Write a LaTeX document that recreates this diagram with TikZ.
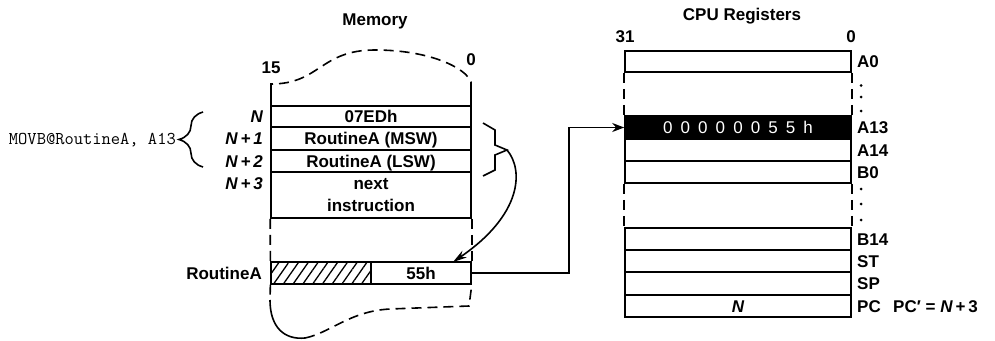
\documentclass[tikz,border=0pt]{standalone}
\usepackage{fontspec}
\setmainfont{Liberation Sans}
\newfontfamily\lblfont{Liberation Sans}
\newfontfamily\digfont{Liberation Sans}
\usetikzlibrary{arrows.meta,decorations.pathreplacing,patterns.meta}
\newcommand\lbl{\lblfont\fontsize{17}{22}\selectfont\bfseries}
\newcommand\gp{\hspace{8.1pt}}
\begin{document}
\begin{tikzpicture}[x=1pt,y=-1pt,
  lw/.style={line width=1.6pt},
  dsh/.style={line width=1.6pt,dash pattern=on 10pt off 6pt},
  lab/.style={inner sep=0pt,text height=12.2pt,text depth=0pt,font=\lbl},
  cell/.style={draw,line width=1.6pt,inner sep=0pt,minimum width=200pt,text height=12.2pt,text depth=0pt,font=\lbl},
  reg/.style={draw,line width=1.6pt,inner sep=0pt,minimum width=226pt,text height=12.2pt,text depth=0pt,font=\lbl},
  arr/.style={-{Stealth[length=14pt,width=8pt]}},
]
\useasboundingbox (0,0) rectangle (995,340);

% ---------------- Memory ----------------
\node[lab,anchor=base] (tmem) at (375,25) {Memory};
\node[lab,anchor=base] (b15) at (271,73) {15};
\node[lab,anchor=base] (b0m) at (471,65) {0};

\draw[dsh] (271,92) -- (271,84) .. controls (320,84) and (320,50) .. (375,50)
  .. controls (430,50) and (466,68) .. (471,82) -- (471,92);
\draw[lw] (271,91) -- (271,106);
\draw[lw] (471,91) -- (471,106);

\node[cell,minimum height=21pt] (mN) at (371,116.5) {07EDh};
\node[cell,minimum height=23pt] (mN1) at (371,138.5) {RoutineA (MSW)};
\node[cell,minimum height=22pt] (mN2) at (371,161) {RoutineA (LSW)};
\node[cell,minimum height=46pt] (mN3) at (371,195) {};
\node[lab] (tnext) at (371,183.5) {next};
\node[lab] (tinstr) at (371,205.5) {instruction};

\node[cell,minimum width=100pt,minimum height=22pt,
  pattern={Lines[angle=55,distance=8pt,line width=1.3pt]}] (hat) at (321,273) {};
\node[cell,minimum width=100pt,minimum height=22pt] (v55) at (421,273) {55h};

\draw[dsh] (mN3.south west) -- (hat.north west);
\draw[dsh] (mN3.south east) -- (v55.north east);
\draw[dsh] (hat.south west) -- (270,302);
\draw[lw] (270,300) .. controls (270,328) and (285,340) .. (305,338);
\draw[dsh] (305,338) .. controls (330,333) and (350,311) .. (390,309) -- (469,306) -- (v55.south east);

\node[lab,anchor=east,font=\lbl\itshape] (lN) at (263,116.5) {N};
\node[lab,anchor=east,font=\lbl\itshape] (lN1) at (263,138.5) {N\,+\,1};
\node[lab,anchor=east,font=\lbl\itshape] (lN2) at (263,161) {N\,+\,2};
\node[lab,anchor=east,font=\lbl\itshape] (lN3) at (263,183.5) {N\,+\,3};
\node[lab,anchor=east] (lRA) at (262,273) {RoutineA};

\node[inner sep=0pt,anchor=east,font=\ttfamily\fontsize{18}{20}\selectfont] (code) at (176,140) {MOVB@RoutineA, A13};
\draw[lw,decorate,decoration={brace,amplitude=24pt}] (203,167) -- (203,112);

\draw[lw] (483,123) -- (495,130) -- (495,145) -- (507,150) -- (495,155) -- (495,170) -- (483,176);
\coordinate (btip) at (507,150);
\coordinate (atip) at (453,262);
\draw[lw,arr] (btip) .. controls (524,170) and (522,215) .. (atip);

% ---------------- CPU registers ----------------
\node[lab,anchor=base] (tcpu) at (742,20) {CPU Registers};
\node[lab,anchor=base] (b31) at (625,42) {31};
\node[lab,anchor=base] (b0c) at (851,42) {0};

\node[reg,minimum height=21pt] (a0) at (738,61.5) {};
\node[reg,minimum height=23pt,fill=black] (a13) at (738,127.5)
  {\digfont\mdseries\fontsize{17}{18}\selectfont\color{white}0\gp0\gp0\gp0\gp0\gp0\gp5\gp5\gp h};
\node[reg,minimum height=22pt] (a14) at (738,150) {};
\node[reg,minimum height=22pt] (b0) at (738,172) {};
\node[reg,minimum height=22pt] (b14) at (738,239) {};
\node[reg,minimum height=22pt] (st) at (738,261) {};
\node[reg,minimum height=23pt] (sp) at (738,283.5) {};
\node[reg,minimum height=22pt,font=\lbl\itshape] (pc) at (738,306) {N};

\draw[dsh] (a0.south west) -- (a13.north west);
\draw[dsh] (a0.south east) -- (a13.north east);
\draw[dsh] (b0.south west) -- (b14.north west);
\draw[dsh] (b0.south east) -- (b14.north east);

\node[lab,anchor=west] (rA0) at (857,61.5) {A0};
\node[lab,anchor=west] (rA13) at (857,127.5) {A13};
\node[lab,anchor=west] (rA14) at (857,150) {A14};
\node[lab,anchor=west] (rB0) at (857,172) {B0};
\node[lab,anchor=west] (rB14) at (857,239) {B14};
\node[lab,anchor=west] (rST) at (857,261) {ST};
\node[lab,anchor=west] (rSP) at (857,283.5) {SP};
\node[lab,anchor=west] (rPC) at (857,306) {PC};
\node[lab,anchor=west] (pcn) at (893,306) {PC′ = \textit{N}\,+\,3};

\foreach \yy in {85.5,97,111,189,204,220}
  \fill (861,\yy) circle (1.5pt);

\coordinate (bend) at (569,200);
\draw[lw,-{Stealth[length=12pt,width=9pt]}] (v55.east) -| (bend) |- (a13.west);
\end{tikzpicture}
\end{document}
